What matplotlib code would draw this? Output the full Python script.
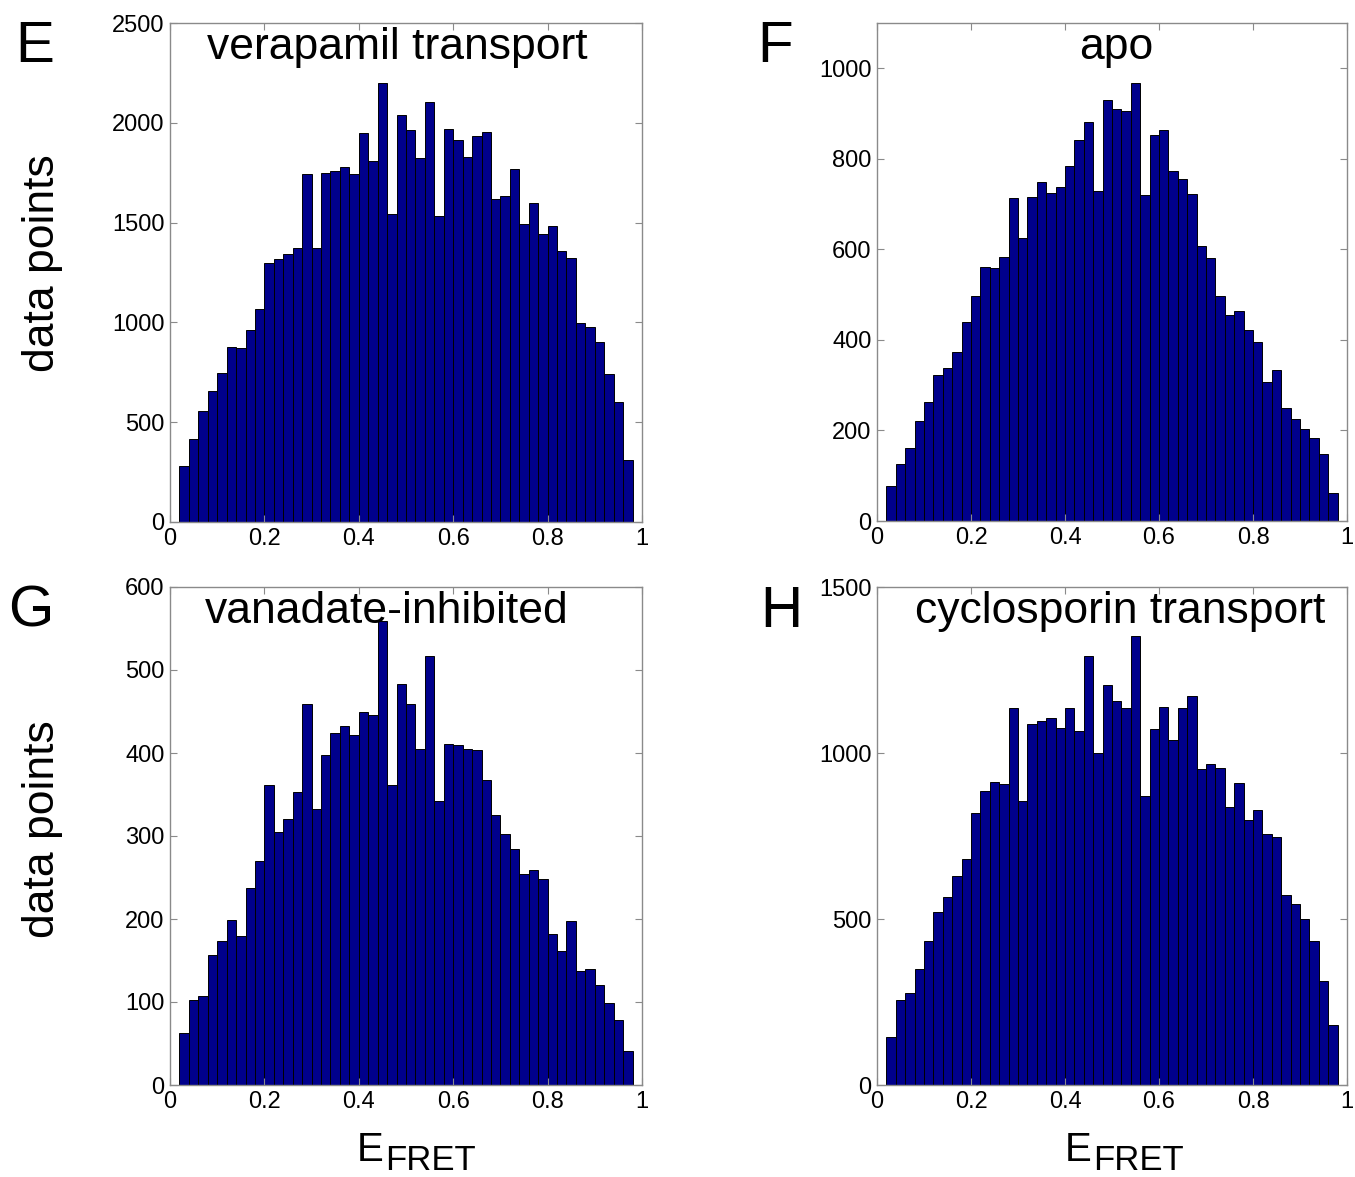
import numpy as np
import matplotlib
matplotlib.use("Agg")
import matplotlib.pyplot as plt

plt.rcParams['font.family'] = ['Liberation Sans', 'DejaVu Sans']

# bin left edges of the E_FRET histograms (48 bins of 0.02 between 0.02 and 0.98)
bin_left = np.round(np.arange(0.02, 0.975, 0.02), 2)
bin_width = 0.02

# counts per bin
verapamil = [282, 415, 558, 658, 745, 875, 872, 962, 1067, 1300, 1317, 1345,
             1372, 1743, 1372, 1748, 1758, 1778, 1743, 1948, 1810, 2198, 1543, 2040,
             1965, 1823, 2105, 1532, 1968, 1912, 1830, 1932, 1953, 1618, 1632, 1767,
             1492, 1597, 1443, 1482, 1360, 1322, 998, 977, 902, 742, 603, 312]
apo = [78, 127, 162, 220, 263, 322, 337, 373, 440, 498, 562, 558,
       583, 714, 626, 716, 749, 725, 738, 785, 842, 881, 728, 929,
       909, 906, 967, 720, 853, 864, 774, 755, 722, 607, 582, 496,
       456, 463, 421, 396, 308, 333, 250, 225, 204, 184, 149, 62]
vanadate = [63, 103, 107, 157, 173, 199, 180, 237, 270, 361, 305, 321,
            353, 459, 332, 398, 424, 433, 422, 449, 446, 559, 362, 483,
            459, 405, 517, 342, 411, 410, 405, 404, 367, 325, 303, 284,
            254, 259, 248, 182, 161, 197, 137, 140, 121, 99, 78, 41]
cyclosporin = [146, 256, 276, 348, 433, 520, 567, 630, 680, 820, 886, 912,
               907, 1137, 855, 1088, 1097, 1106, 1074, 1135, 1067, 1293, 1000, 1204,
               1157, 1137, 1352, 871, 1071, 1140, 1039, 1135, 1172, 952, 968, 956,
               836, 909, 797, 829, 755, 748, 571, 544, 500, 433, 313, 181]

titles = ['verapamil transport', 'apo', 'vanadate-inhibited', 'cyclosporin transport']
ylims = [2500, 1100, 600, 1500]
yticks = [[0, 500, 1000, 1500, 2000, 2500],
          [0, 200, 400, 600, 800, 1000],
          [0, 100, 200, 300, 400, 500, 600],
          [0, 500, 1000, 1500]]
xticks = [0, 0.2, 0.4, 0.6, 0.8, 1]
xticklabels = ['0', '0.2', '0.4', '0.6', '0.8', '1']

W, H = 1355, 1177
fig = plt.figure(figsize=(W / 100, H / 100), dpi=100)

# axes boxes in pixels: left, top, right, bottom
boxes = [(170, 23, 642, 522), (877, 23, 1347, 521),
         (170, 587, 642, 1085), (877, 587, 1347, 1085)]
title_x = [0.482, 0.508, 0.46, 0.517]
data = [verapamil, apo, vanadate, cyclosporin]

gray = '#8a8a8a'
for i in range(4):
    l, t, r, b = boxes[i]
    ax = fig.add_axes([l / W, 1 - b / H, (r - l) / W, (b - t) / H])
    ax.bar(bin_left, data[i], width=bin_width, align='edge',
           color='#00008c', edgecolor='black', linewidth=0.7)
    ax.set_xlim(0, 1)
    ax.set_ylim(0, ylims[i])
    ax.set_xticks(xticks)
    ax.set_xticklabels(xticklabels)
    ax.set_yticks(yticks[i])
    ax.tick_params(direction='in', length=5, width=0.8, color=gray,
                   top=True, right=True, labelsize=17, pad=4)
    for s in ax.spines.values():
        s.set_color(gray)
        s.set_linewidth(1)
    ax.text(title_x[i], 0.928, titles[i], transform=ax.transAxes,
            ha='center', va='baseline', fontsize=32)

# panel letters
fig.text(15 / W, 1 - 62 / H, 'E', fontsize=42, va='baseline')
fig.text(757 / W, 1 - 62 / H, 'F', fontsize=42, va='baseline')
fig.text(8 / W, 1 - 627 / H, 'G', fontsize=42, va='baseline')
fig.text(760 / W, 1 - 627 / H, 'H', fontsize=42, va='baseline')

# y labels
fig.text(43 / W, 1 - 263 / H, 'data points', rotation=90, fontsize=32,
         ha='center', va='center')
fig.text(43 / W, 1 - 829 / H, 'data points', rotation=90, fontsize=32,
         ha='center', va='center')

# x labels E_FRET
for ex in [357, 1065]:
    fig.text(ex / W, 1 - 1161 / H, 'E', fontsize=29, va='baseline')
    fig.text((ex + 28) / W, 1 - 1170 / H, 'FRET', fontsize=25, va='baseline')

fig.savefig('out.png', dpi=100)
